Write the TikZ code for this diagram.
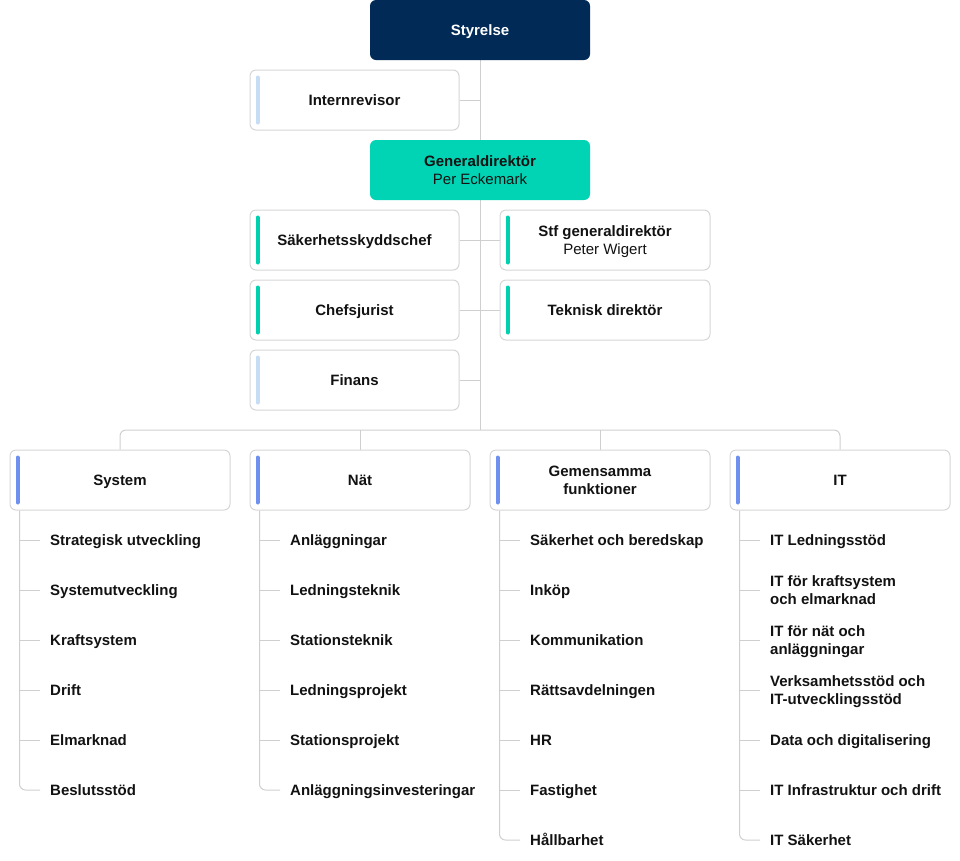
\documentclass[tikz,border=0pt]{standalone}
\usepackage{fontspec}
\setmainfont{Liberation Sans}
\usetikzlibrary{backgrounds,calc}
\definecolor{navy}{HTML}{012A57}
\definecolor{teal}{HTML}{00D4B4}
\definecolor{boxgray}{HTML}{D6D6D6}
\definecolor{linegray}{HTML}{CFCFCF}
\definecolor{txt}{HTML}{121212}
\definecolor{barlight}{HTML}{C6DDF3}
\definecolor{barteal}{HTML}{00D0AE}
\definecolor{barblue}{HTML}{7090F0}
\begin{document}
\begin{tikzpicture}[x=1pt,y=-1pt,
  font=\fontsize{15}{18}\selectfont, text=txt,
  box/.style={draw=boxgray, line width=1pt, rounded corners=6pt, fill=white,
    minimum width=209pt, minimum height=60pt, inner sep=0pt, align=center, font=\fontsize{15}{18}\selectfont\bfseries},
  divbox/.style={box, minimum width=220pt},
  topbox/.style={rounded corners=6pt, minimum width=220pt, minimum height=60pt, inner sep=0pt, align=center, font=\fontsize{15}{18}\selectfont\bfseries},
  one/.style={text height=11pt, text depth=0pt},
  two/.style={text height=29pt, text depth=0pt},
  conn/.style={draw=linegray, line width=1pt},
  accent/.style={line width=4pt, line cap=round},
  item/.style={anchor=west, inner sep=0pt, align=left, font=\fontsize{15}{18}\selectfont\bfseries},
  item1/.style={item, one},
  item2/.style={item, two}
]
\useasboundingbox (0,0) rectangle (960,860);

% top
\node[topbox, one, fill=navy, text=white] (styr) at (480,30) {Styrelse};
\node[box, one] (intern) at (354.5,100) {Internrevisor};
\node[topbox, two, fill=teal] (gd) at (480,170) {Generaldirektör\\\mdseries Per Eckemark};
\node[box, one] (saker) at (354.5,240) {Säkerhetsskyddschef};
\node[box, two, minimum width=210pt] (stf) at (605,240) {Stf generaldirektör\\\mdseries Peter Wigert};
\node[box, one] (chef) at (354.5,310) {Chefsjurist};
\node[box, one, minimum width=210pt] (tek) at (605,310) {Teknisk direktör};
\node[box, one] (fin) at (354.5,380) {Finans};

\coordinate (bus) at (480,430);

% divisions
\node[divbox, one] (sys) at (120,480) {System};
\node[divbox, one] (nat) at (360,480) {Nät};
\node[divbox, two] (gem) at (600,480) {Gemensamma\\funktioner};
\node[divbox, one] (it) at (840,480) {IT};

% accent bars
\foreach \n/\c in {intern/barlight, saker/barteal, chef/barteal, fin/barlight, stf/barteal, tek/barteal, sys/barblue, nat/barblue, gem/barblue, it/barblue}{
  \draw[accent, \c] ([xshift=8pt,yshift=-8pt]\n.north west) -- ([xshift=8pt,yshift=8pt]\n.south west);
}

% items System
\node[item1] (s1) at (50,540) {Strategisk utveckling};
\node[item1] (s2) at (50,590) {Systemutveckling};
\node[item1] (s3) at (50,640) {Kraftsystem};
\node[item1] (s4) at (50,690) {Drift};
\node[item1] (s5) at (50,740) {Elmarknad};
\node[item1] (s6) at (50,790) {Beslutsstöd};
% items Nät
\node[item1] (n1) at (290,540) {Anläggningar};
\node[item1] (n2) at (290,590) {Ledningsteknik};
\node[item1] (n3) at (290,640) {Stationsteknik};
\node[item1] (n4) at (290,690) {Ledningsprojekt};
\node[item1] (n5) at (290,740) {Stationsprojekt};
\node[item1] (n6) at (290,790) {Anläggningsinvesteringar};
% items Gemensamma
\node[item1] (g1) at (530,540) {Säkerhet och beredskap};
\node[item1] (g2) at (530,590) {Inköp};
\node[item1] (g3) at (530,640) {Kommunikation};
\node[item1] (g4) at (530,690) {Rättsavdelningen};
\node[item1] (g5) at (530,740) {HR};
\node[item1] (g6) at (530,790) {Fastighet};
\node[item1] (g7) at (530,840) {Hållbarhet};
% items IT
\node[item1] (i1) at (770,540) {IT Ledningsstöd};
\node[item2] (i2) at (770,590) {IT för kraftsystem\\och elmarknad};
\node[item2] (i3) at (770,640) {IT för nät och\\anläggningar};
\node[item2] (i4) at (770,690) {Verksamhetsstöd och\\IT-utvecklingsstöd};
\node[item1] (i5) at (770,740) {Data och digitalisering};
\node[item1] (i6) at (770,790) {IT Infrastruktur och drift};
\node[item1] (i7) at (770,840) {IT Säkerhet};

\begin{scope}[on background layer]
  \draw[conn] (styr.south) -- (bus);
  \draw[conn] (intern.east) -- (intern.east -| styr.south);
  \draw[conn] (saker.east) -- (stf.west);
  \draw[conn] (chef.east) -- (tek.west);
  \draw[conn] (fin.east) -- (fin.east -| styr.south);
  \draw[conn, rounded corners=6pt] (sys.north) -- (sys.north |- bus) -- (it.north |- bus) -- (it.north);
  \draw[conn] (nat.north) -- (nat.north |- bus);
  \draw[conn] (gem.north) -- (gem.north |- bus);
  % list trees
  \foreach \d/\last/\others in {sys/s6/{s1,s2,s3,s4,s5}, nat/n6/{n1,n2,n3,n4,n5}, gem/g7/{g1,g2,g3,g4,g5,g6}, it/i7/{i1,i2,i3,i4,i5,i6}}{
    \coordinate (L) at ([xshift=10pt]\d.south west);
    \draw[conn, rounded corners=6pt] (L) -- (L |- \last.west) -- ([xshift=-10pt]\last.west);
    \foreach \o in \others {
      \draw[conn] (L |- \o.west) -- ([xshift=-10pt]\o.west);
    }
  }
\end{scope}
\end{tikzpicture}
\end{document}
